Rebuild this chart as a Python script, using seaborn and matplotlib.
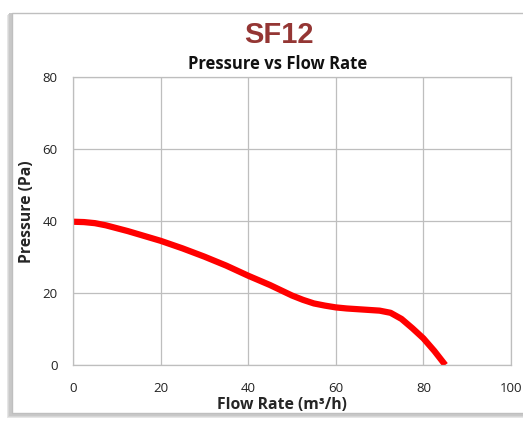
import matplotlib
matplotlib.use("Agg")
import matplotlib.pyplot as plt
import seaborn as sns
import pandas as pd
from matplotlib.patches import Rectangle

flow_rate = [0, 2.5, 5, 7.5, 10, 12.5, 15, 17.5, 20, 25, 30, 35, 40, 45, 50, 52.5, 55,
             57.5, 60, 62.5, 65, 67.5, 70, 72.5, 75, 77.5, 80, 82.5, 85]
pressure = [39.8, 39.7, 39.4, 38.8, 38.0, 37.2, 36.3, 35.4, 34.5, 32.4, 30.1, 27.6, 24.8,
            22.2, 19.3, 18.1, 17.1, 16.5, 16.0, 15.7, 15.5, 15.3, 15.1, 14.5, 12.8, 10.2,
            7.4, 3.9, 0]
x_ticks = [0, 20, 40, 60, 80, 100]
y_ticks = [0, 20, 40, 60, 80]
title = "SF12"
subtitle = "Pressure vs Flow Rate"
xlabel = "Flow Rate (m³/h)"
ylabel = "Pressure (Pa)"

df = pd.DataFrame({"flow": flow_rate, "pressure": pressure})

sns.set_style("white")
plt.rcParams['font.family'] = ['Open Sans', 'DejaVu Sans']

W, H = 523, 421
fig = plt.figure(figsize=(W / 100, H / 100), dpi=100)
fig.patch.set_facecolor("white")

# frame with soft shadow on left and bottom
for i, c in enumerate(["#E6E6E6", "#D6D6D6", "#C8C8C8"]):
    off = 3 - i
    sh = Rectangle(((10 - off) / W, (5 - off + 1) / H), (W) / W, (H - 18) / H,
                   transform=fig.transFigure, facecolor=c, edgecolor="none", zorder=-3 + i * 0.1)
    fig.patches.append(sh)
frame = Rectangle((12 / W, 8 / H), (W - 10) / W, (H - 21) / H, transform=fig.transFigure,
                  facecolor="white", edgecolor="#BFBFBF", linewidth=1, zorder=-1)
fig.patches.append(frame)

ax = fig.add_axes([73 / W, 1 - 365 / H, (511 - 73) / W, (365 - 77) / H])
ax.set_zorder(5)
ax.set_facecolor("none")
sns.lineplot(data=df, x="flow", y="pressure", ax=ax, color="#FF0000", linewidth=4.5,
             sort=True, solid_capstyle="butt", solid_joinstyle="round")

ax.set_xlim(0, 100)
ax.set_ylim(0, 80)
ax.set_xticks(x_ticks)
ax.set_yticks(y_ticks)
ax.grid(True, color="#BEBEBE", linewidth=0.9)
ax.set_axisbelow(True)
for s in ax.spines.values():
    s.set_color("#BEBEBE")
    s.set_linewidth(0.9)
ax.tick_params(axis="both", which="both", direction="out", length=4, width=0.9,
               color="#999999", labelsize=9.5, labelcolor="#222222", pad=7)
ax.tick_params(axis="x", pad=8)
ax.set_xlabel(xlabel, fontsize=11.3, fontweight="bold", labelpad=0)
ax.xaxis.set_label_coords(0.477, -0.112)
ax.set_ylabel(ylabel, fontsize=11.3, fontweight="bold")
ax.yaxis.set_label_coords(-0.087, 0.531)

fig.text(279 / W, 1 - 35 / H, title, ha="center", va="center", fontsize=21,
         fontweight="bold", color="#943634", family=["Liberation Sans", "DejaVu Sans"])
fig.text(278 / W, 1 - 64 / H, subtitle, ha="center", va="center", fontsize=12,
         fontweight="bold", color="#111111")

fig.savefig("out.png", dpi=100)
